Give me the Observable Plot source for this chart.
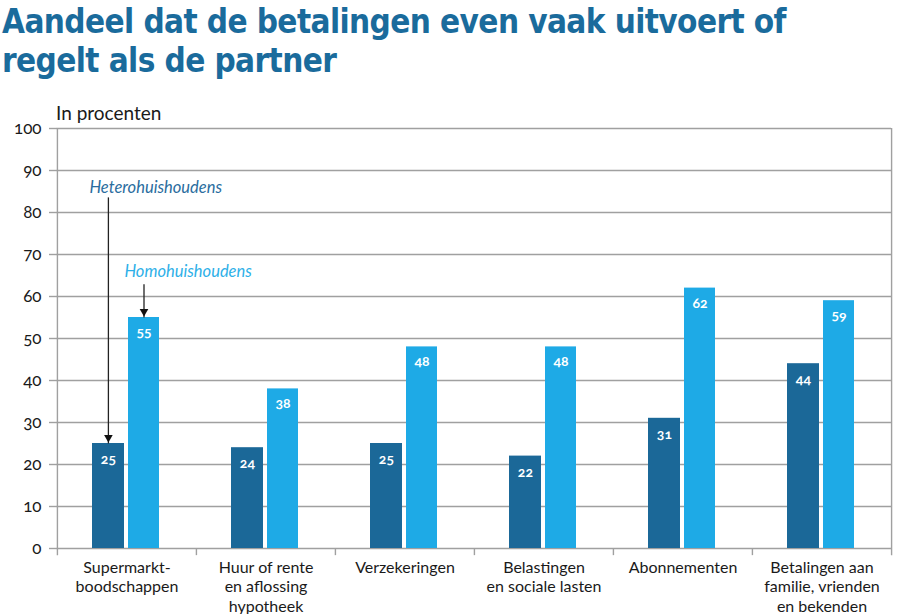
<!DOCTYPE html>
<html>
<head>
<meta charset="utf-8">
<script src="https://cdn.jsdelivr.net/npm/d3@7"></script>
<script src="https://cdn.jsdelivr.net/npm/@observablehq/plot@0.6"></script>
<style>
  body { margin: 0; background: #fff; width: 900px; height: 614px; position: relative; overflow: hidden; }
  #title { position: absolute; left: 2px; top: 2px; font-family: "DejaVu Sans Condensed", "DejaVu Sans", sans-serif; font-stretch: condensed; font-weight: bold; font-size: 33px; line-height: 39px; color: #1a6b9c; letter-spacing: -0.6px; white-space: nowrap; }
  #subtitle { position: absolute; left: 56px; top: 103px; font-family: Lato, sans-serif; font-size: 19px; line-height: 19px; color: #1a1a1a; }
  #chart { position: absolute; left: 0; top: 100px; }
</style>
</head>
<body>
<div id="title">Aandeel dat de betalingen even vaak uitvoert of<br>regelt als de partner</div>
<div id="subtitle">In procenten</div>
<div id="chart"></div>
<script>
const categories = [
  "Supermarkt-\nboodschappen",
  "Huur of rente\nen aflossing\nhypotheek",
  "Verzekeringen",
  "Belastingen\nen sociale lasten",
  "Abonnementen",
  "Betalingen aan\nfamilie, vrienden\nen bekenden"
];
const seriesNames = ["Heterohuishoudens", "Homohuishoudens"];
const hetero = [25, 24, 25, 22, 31, 44];
const homo = [55, 38, 48, 48, 62, 59];
const yTicks = [0, 10, 20, 30, 40, 50, 60, 70, 80, 90, 100];

const darkBlue = "#1b6898";
const lightBlue = "#1eaae6";
const gridColor = "#a0a0a0";

const rows = categories.map((c, i) => ({category: c, hetero: hetero[i], homo: homo[i]}));

const W = 900, ML = 56, MR = 9;
const step = (W - ML - MR) / categories.length;
const half = step / 2;
const darkDx = -18.6, lightDx = 17;

const plot = Plot.plot({
  width: W,
  height: 514,
  marginLeft: ML,
  marginRight: MR,
  marginTop: 28,
  marginBottom: 66,
  x: {domain: categories, padding: 0, label: null},
  y: {domain: [0, 100], label: null},
  style: {fontFamily: "Lato, sans-serif", fontSize: "17px", color: "#1a1a1a", background: "transparent"},
  marks: [
    Plot.gridY(yTicks, {stroke: gridColor, strokeOpacity: 1, strokeWidth: 1.4}),
    Plot.axisY(yTicks, {tickSize: 7, tickPadding: 8, stroke: gridColor, strokeWidth: 1.4, fill: "#1a1a1a", fontSize: 17, fontVariant: "oldstyle-nums", label: null}),
    Plot.ruleX(categories.slice(1), {dx: -half, y1: -1.7, y2: 0, stroke: gridColor, strokeWidth: 1.4}),
    Plot.ruleX([categories[0]], {dx: -half, y1: -1.7, y2: 100, stroke: gridColor, strokeWidth: 1.4}),
    Plot.ruleX([categories[categories.length - 1]], {dx: half, y1: -1.7, y2: 100, stroke: gridColor, strokeWidth: 1.4}),
    Plot.axisX({tickSize: 0, tickPadding: 11, lineHeight: 1.2, fontSize: 16, fill: "#1a1a1a", label: null}),
    Plot.barY(rows, {x: "category", y: "hetero", fill: darkBlue, insetLeft: 35, insetRight: 72}),
    Plot.barY(rows, {x: "category", y: "homo", fill: lightBlue, insetLeft: 71, insetRight: 37}),
    Plot.text(rows, {x: "category", y: "hetero", text: d => String(d.hetero), dx: darkDx, dy: 16, fill: "white", fontWeight: "bold", fontSize: 14, fontVariant: "oldstyle-nums"}),
    Plot.text(rows, {x: "category", y: "homo", text: d => String(d.homo), dx: lightDx, dy: 15, fill: "white", fontWeight: "bold", fontSize: 14, fontVariant: "oldstyle-nums"}),
    // annotations
    Plot.text([seriesNames[0]], {x: () => categories[0], y: () => 86, text: d => d, dx: -37.6, textAnchor: "start", fill: "#2a6d9e", fontStyle: "italic", fontSize: 16.5}),
    Plot.text([seriesNames[1]], {x: () => categories[0], y: () => 66, text: d => d, dx: -2.6, textAnchor: "start", fill: "#2eb0e8", fontStyle: "italic", fontSize: 16.5}),
    Plot.link([rows[0]], {x1: "category", x2: "category", y1: () => 83.6, y2: "hetero", dx: darkDx, stroke: "#222", strokeWidth: 1.3}),
    Plot.link([rows[0]], {x1: "category", x2: "category", y1: () => 62.9, y2: "homo", dx: lightDx, stroke: "#222", strokeWidth: 1.3}),
    Plot.dot([rows[0]], {x: "category", y: "hetero", dx: darkDx, dy: -6, symbol: "triangle", rotate: 180, r: 3.2, fill: "#111", stroke: "none"}),
    Plot.dot([rows[0]], {x: "category", y: "homo", dx: lightDx, dy: -6, symbol: "triangle", rotate: 180, r: 3.2, fill: "#111", stroke: "none"})
  ]
});
document.getElementById("chart").appendChild(plot);
</script>
</body>
</html>
